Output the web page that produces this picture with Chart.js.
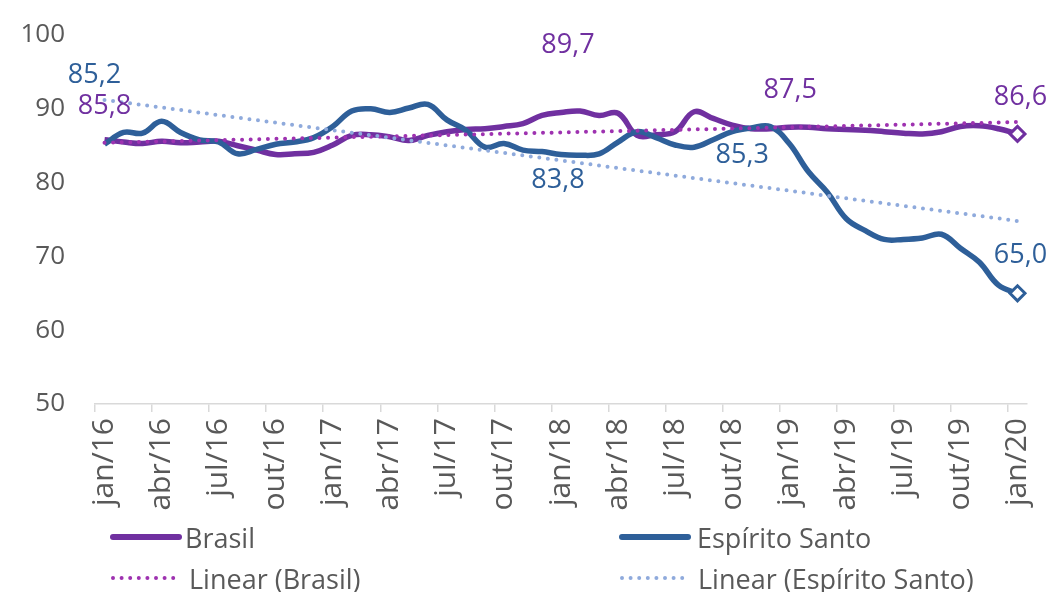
<!DOCTYPE html>
<html><head><meta charset="utf-8">
<script src="https://cdn.jsdelivr.net/npm/chart.js@4.4.1/dist/chart.umd.min.js"></script>
<style>
html,body{margin:0;padding:0;background:#fff;}
#wrap{position:relative;width:1048px;height:592px;overflow:hidden;}
#c{position:absolute;left:0;top:0;}
.lg{position:absolute;display:flex;align-items:center;font-family:"Open Sans",sans-serif;font-size:27px;color:#595959;height:36px;white-space:nowrap;}
.lg svg{display:block;}
</style></head><body>
<div id="wrap"><canvas id="c" width="1048" height="592"></canvas><div id="legend"></div></div>
<script>
const categories = ['jan/16','fev/16','mar/16','abr/16','mai/16','jun/16','jul/16','ago/16','set/16','out/16','nov/16','dez/16',
'jan/17','fev/17','mar/17','abr/17','mai/17','jun/17','jul/17','ago/17','set/17','out/17','nov/17','dez/17',
'jan/18','fev/18','mar/18','abr/18','mai/18','jun/18','jul/18','ago/18','set/18','out/18','nov/18','dez/18',
'jan/19','fev/19','mar/19','abr/19','mai/19','jun/19','jul/19','ago/19','set/19','out/19','nov/19','dez/19',
'jan/20'];
const brasil = [85.8,85.5,85.3,85.6,85.4,85.5,85.6,85.0,84.4,83.8,83.9,84.1,
85.1,86.4,86.5,86.2,85.7,86.4,86.9,87.2,87.3,87.6,88.0,89.1,
89.5,89.7,89.1,89.4,86.4,86.5,86.9,89.6,88.7,87.8,87.3,87.3,
87.5,87.5,87.3,87.2,87.1,86.9,86.7,86.6,86.9,87.6,87.7,87.3,
86.6];
const espiritoSanto = [85.2,86.8,86.7,88.3,86.8,85.8,85.5,83.9,84.5,85.2,85.5,86.1,
87.6,89.7,90.0,89.5,90.1,90.6,88.5,87.1,84.8,85.3,84.4,84.2,
83.8,83.7,83.9,85.5,86.9,86.1,85.1,84.8,85.8,86.9,87.4,87.6,
85.3,81.5,78.7,75.1,73.5,72.3,72.3,72.5,73.0,71.1,69.2,66.1,
65.0];
const trendBrasilEnds = [85.4, 88.2];
const trendEspiritoSantoEnds = [91.2, 74.8];
const yTicks = [50,60,70,80,90,100];
const seriesNames = ['Brasil','Espírito Santo','Linear (Brasil)','Linear (Espírito Santo)'];

const C_BR = '#7030A0', C_ES = '#2E5F99', C_TBR = '#9E32B0', C_TES = '#8FAADC';
const last = categories.length - 1;

// label spec: dataset index, point index, pixel offset of the text centre
const pointLabels = [
  {ds:1, i:0, dx:-10, dy:-69},
  {ds:0, i:0, dx:0, dy:-33},
  {ds:0, i:25, dx:-12, dy:-66},
  {ds:1, i:24, dx:-3, dy:26},
  {ds:0, i:36, dx:1, dy:-37},
  {ds:1, i:36, dx:-47, dy:12},
  {ds:0, i:48, dx:3, dy:-37},
  {ds:1, i:48, dx:3, dy:-38}
];

const labelPlugin = {
  id:'pointLabels',
  afterDatasetsDraw(chart){
    const ctx = chart.ctx;
    ctx.save();
    ctx.font = '27px "Open Sans"';
    ctx.textAlign = 'center';
    ctx.textBaseline = 'middle';
    pointLabels.forEach(l => {
      const pt = chart.getDatasetMeta(l.ds).data[l.i];
      const ds = chart.data.datasets[l.ds];
      ctx.fillStyle = ds.borderColor;
      ctx.fillText(ds.data[l.i].toFixed(1).replace('.', ','), pt.x + l.dx, pt.y + l.dy);
    });
    ctx.restore();
  }
};

const markerRadius = ctx => ctx.dataIndex === last ? 7.5 : 0;

new Chart(document.getElementById('c'), {
  type:'line',
  data:{
    labels: categories,
    datasets:[
      {label:seriesNames[0], data:brasil, borderColor:C_BR, backgroundColor:'#fff', borderWidth:5.5, tension:0.4,
       pointRadius:markerRadius, pointStyle:'rectRot', pointBorderWidth:3, pointBackgroundColor:'#fff', pointBorderColor:C_BR, order:3},
      {label:seriesNames[1], data:espiritoSanto, borderColor:C_ES, backgroundColor:'#fff', borderWidth:5.5, tension:0.4,
       pointRadius:markerRadius, pointStyle:'rectRot', pointBorderWidth:3, pointBackgroundColor:'#fff', pointBorderColor:C_ES, order:2},
      {label:seriesNames[2], data:[{x:categories[0], y:trendBrasilEnds[0]},{x:categories[last], y:trendBrasilEnds[1]}],
       borderColor:C_TBR, borderWidth:4, borderDash:[0,8.6], borderCapStyle:'round', pointRadius:0, order:1},
      {label:seriesNames[3], data:[{x:categories[0], y:trendEspiritoSantoEnds[0]},{x:categories[last], y:trendEspiritoSantoEnds[1]}],
       borderColor:C_TES, borderWidth:4, borderDash:[0,8.6], borderCapStyle:'round', pointRadius:0, order:0}
    ]
  },
  options:{
    responsive:false, animation:false,
    layout:{padding:{left:0,right:21,top:35,bottom:0}},
    plugins:{legend:{display:false}, tooltip:{enabled:false}},
    scales:{
      x:{
        offset:true,
        grid:{offset:true, drawOnChartArea:false, drawTicks:true, tickLength:8, lineWidth:1.5,
              color: c => (c.index !== undefined && c.index % 3 === 0) ? '#d9d9d9' : 'rgba(0,0,0,0)'},
        border:{display:true, color:'#d9d9d9', width:1.5},
        ticks:{autoSkip:false, minRotation:90, maxRotation:90, padding:6, color:'#595959',
               font:{family:'Open Sans', size:30},
               callback:(v,i) => i % 3 === 0 ? categories[i] : ''},
        afterFit: s => { s.height = 188; s.paddingLeft = 0; s.paddingRight = 0; }
      },
      y:{
        min:yTicks[0], max:yTicks[yTicks.length-1],
        grid:{display:false, drawTicks:false},
        border:{display:false},
        afterBuildTicks: s => { s.ticks = yTicks.map(v => ({value:v})); },
        ticks:{padding:30, color:'#595959', font:{family:'Open Sans', size:26}},
        afterFit: s => { s.width = 95; s.paddingTop = 0; s.paddingBottom = 0; }
      }
    }
  },
  plugins:[labelPlugin]
});

// HTML legend
const legendItems = [
  {name:seriesNames[0], color:C_BR, dotted:false, left:110, top:519, textGap:3},
  {name:seriesNames[1], color:C_ES, dotted:false, left:619, top:519, textGap:6},
  {name:seriesNames[2], color:C_TBR, dotted:true, left:110, top:560, textGap:11},
  {name:seriesNames[3], color:C_TES, dotted:true, left:619, top:560, textGap:11}
];
const lg = document.getElementById('legend');
legendItems.forEach(it => {
  const d = document.createElement('div');
  d.className = 'lg';
  d.style.left = it.left + 'px';
  d.style.top = it.top + 'px';
  const w = it.dotted ? 68 : 72;
  const line = it.dotted
    ? `<line x1="3" y1="6" x2="${w-3}" y2="6" stroke="${it.color}" stroke-width="4" stroke-linecap="round" stroke-dasharray="0 8.6"/>`
    : `<line x1="3" y1="6" x2="${w-3}" y2="6" stroke="${it.color}" stroke-width="6" stroke-linecap="round"/>`;
  d.innerHTML = `<svg width="${w}" height="12">${line}</svg><span style="margin-left:${it.textGap}px">${it.name}</span>`;
  lg.appendChild(d);
});
</script>
</body></html>
